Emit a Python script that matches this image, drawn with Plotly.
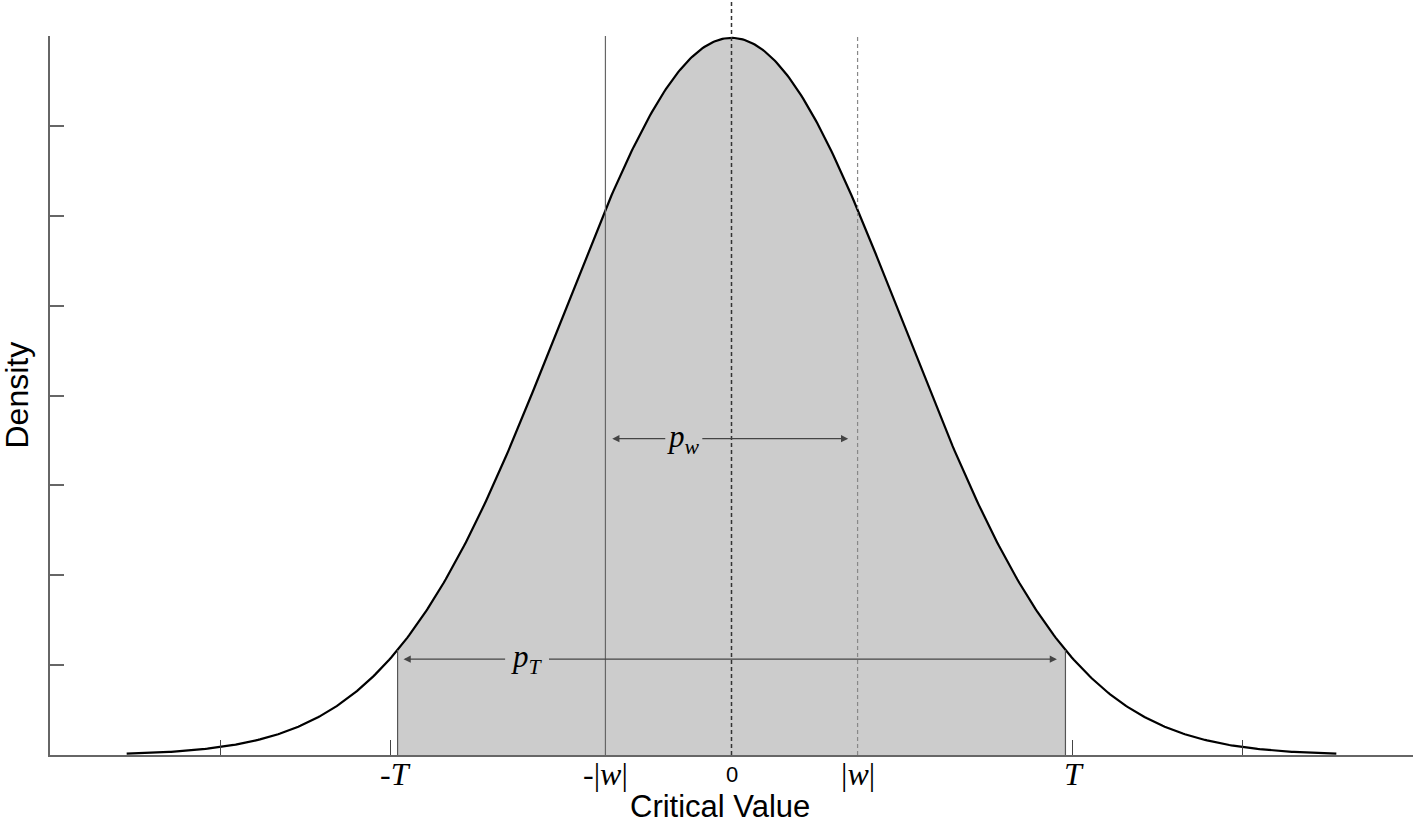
import numpy as np
import plotly.graph_objects as go

# parameters of the illustrated standard normal density
mean = 0.0
sd = 1.0
T = 1.96          # critical value T
W = 0.74          # |w|
x_range = [-4, 4]
y_range = [0, 0.4]
curve_limits = [-3.55, 3.55]
x_ticks = [-3, -2, 2, 3, 4]
y_ticks = [0.05, 0.10, 0.15, 0.20, 0.25, 0.30, 0.35, 0.40]
tick_labels = ["-<i>T</i>", "-|<i>w</i>|", "0", "|<i>w</i>|", "<i>T</i>"]
tick_label_pos = [-1.97, -0.74, 0.0, 0.74, 2.01]
pw_arrow = dict(y=0.176, left=-0.70, right=0.685, gap=[-0.38, -0.18], label_x=-0.28)
pT_arrow = dict(y=0.0533, left=-1.925, right=1.91, gap=[-1.32, -1.08], label_x=-1.20)

def pdf(x):
    return np.exp(-0.5 * ((x - mean) / sd) ** 2) / (sd * np.sqrt(2 * np.pi))

xs = np.linspace(curve_limits[0], curve_limits[1], 600)
xf = np.linspace(-T, T, 400)

fig = go.Figure()
fig.add_trace(go.Scatter(x=np.concatenate([[-T], xf, [T]]),
                         y=np.concatenate([[0], pdf(xf), [0]]),
                         fill="toself", fillcolor="#cccccc", mode="none",
                         hoverinfo="skip", showlegend=False))
fig.add_trace(go.Scatter(x=xs, y=pdf(xs), mode="lines",
                         line=dict(color="black", width=2.2), showlegend=False))

shapes = []
for v in (-T, T):
    shapes.append(dict(type="line", xref="x", yref="y", x0=v, x1=v, y0=0, y1=pdf(v),
                       line=dict(color="#555555", width=1.2)))
shapes.append(dict(type="line", xref="x", yref="y", x0=-W, x1=-W, y0=0, y1=0.4,
                   line=dict(color="#666666", width=1.2)))
shapes.append(dict(type="line", xref="x", yref="y", x0=W, x1=W, y0=0, y1=0.4,
                   line=dict(color="#888888", width=1.2, dash="4px,3px")))
shapes.append(dict(type="line", xref="x", yref="paper", x0=0, x1=0, y0=0, y1=1.06,
                   line=dict(color="#333333", width=1.5, dash="4px,3px")))
fig.update_layout(shapes=shapes)

ann = []
def arrow(spec):
    for head, tail in ((spec["left"], spec["gap"][0]), (spec["right"], spec["gap"][1])):
        ann.append(dict(x=head, y=spec["y"], ax=tail, ay=spec["y"], xref="x", yref="y",
                        axref="x", ayref="y", text="", showarrow=True, arrowhead=2,
                        arrowsize=1.2, arrowwidth=1.2, arrowcolor="#444444"))
arrow(pw_arrow)
arrow(pT_arrow)
ann.append(dict(x=pw_arrow["label_x"], y=pw_arrow["y"], xref="x", yref="y",
                text="<i>p</i><sub><i>w</i></sub>", showarrow=False,
                font=dict(family="Liberation Serif", size=31, color="black")))
ann.append(dict(x=pT_arrow["label_x"], y=pT_arrow["y"], xref="x", yref="y",
                text="<i>p</i><sub><i>T</i></sub>", showarrow=False,
                font=dict(family="Liberation Serif", size=31, color="black")))
for lab, pos in zip(tick_labels, tick_label_pos):
    if lab == "0":
        f = dict(family="Arial, Liberation Sans", size=22, color="black")
    else:
        f = dict(family="Liberation Serif", size=32, color="black")
    ann.append(dict(x=pos, y=0, xref="x", yref="y", yanchor="middle", yshift=-19,
                    text=lab, showarrow=False, font=f))
ann.append(dict(x=-0.07, y=0, xref="x", yref="paper", yshift=-51, yanchor="middle",
                text="Critical Value", showarrow=False,
                font=dict(family="Arial, Liberation Sans", size=31, color="black")))
ann.append(dict(x=0, y=0.5, xref="paper", yref="paper", xshift=-34, xanchor="center",
                text="Density", textangle=-90, showarrow=False,
                font=dict(family="Arial, Liberation Sans", size=32, color="black")))
fig.update_layout(annotations=ann)

fig.update_layout(
    width=1417, height=826,
    margin=dict(l=50, r=4, t=36, b=71),
    plot_bgcolor="white", paper_bgcolor="white",
    xaxis=dict(range=x_range, tickvals=x_ticks, ticks="inside", ticklen=15,
               tickcolor="#444444", tickwidth=1, showticklabels=False,
               showline=True, linecolor="#666666", linewidth=2,
               showgrid=False, zeroline=False),
    yaxis=dict(range=y_range, tickvals=y_ticks, ticks="inside", ticklen=14,
               tickcolor="#666666", tickwidth=2, showticklabels=False,
               showline=True, linecolor="#666666", linewidth=2,
               showgrid=False, zeroline=False),
)
fig.write_html("out.html", config={"displayModeBar": False},
               post_script="document.body.style.margin='0';document.body.style.overflow='hidden';")
